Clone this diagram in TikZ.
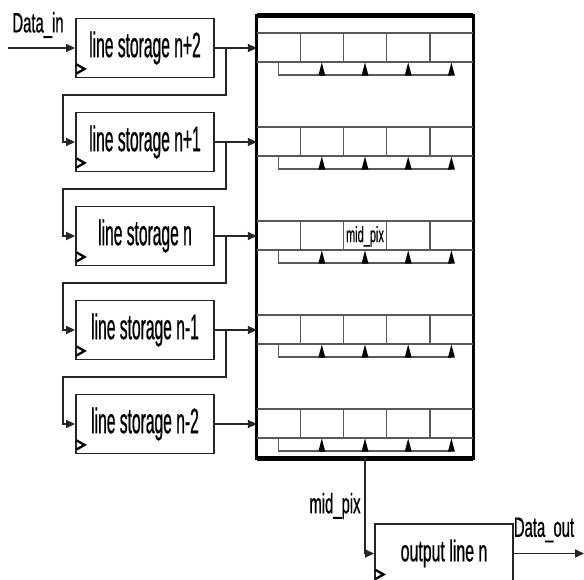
\documentclass[tikz,border=0pt]{standalone}
\usepackage{fontspec}
\newfontfamily\narrow[FakeStretch=0.44,FakeBold=0.6]{Liberation Sans}
\newfontfamily\narrowl[FakeStretch=0.53,FakeBold=0.6]{Liberation Sans}
\newfontfamily\narrowb[FakeStretch=0.5,FakeBold=0.4]{Liberation Sans}
\usetikzlibrary{arrows.meta,calc}
\begin{document}
\begin{tikzpicture}[x=1pt,y=-1pt,
  lsbox/.style={draw=black!85, line width=1.9pt, minimum width=138pt, minimum height=59pt, inner sep=0pt, font=\narrow\fontsize{35.5}{36}\selectfont},
  wire/.style={draw=black!85,line width=1.7pt},
  arr/.style={wire,-{Triangle[length=9pt,width=8pt]}},
  lbl/.style={font=\narrowl\fontsize{28}{30}\selectfont, inner sep=0pt},
  cellline/.style={draw=black!65,line width=1.4pt},
  clk/.style={draw=black,line width=2.3pt},
]
\useasboundingbox (0,0) rectangle (584,580);

% line storage boxes
\foreach \i/\t in {1/n+2,2/n+1,3/n,4/n-1,5/n-2}{
  \node[lsbox] (ls\i) at (145,{48+94*(\i-1)}) {line storage \t};
  \draw[clk] ($(ls\i.south west)+(1.5,-14)$) -- ++(8,4.5) -- ++(-8,4.5);
}

% register block
\node[minimum width=216pt, minimum height=442pt, inner sep=0pt] (reg) at (365,237) {};
\draw[line width=2.8pt] (reg.north west) rectangle (reg.south east);
\draw[line width=5pt] (reg.north west) -- (reg.north east);
\draw[line width=5pt] (reg.south west) -- (reg.south east);

\foreach \k in {0,...,4}{
  \pgfmathsetmacro\ya{33+94*\k}
  \pgfmathsetmacro\yb{62+94*\k}
  \pgfmathsetmacro\yc{75+94*\k}
  \draw[cellline] (257,\ya) -- (473,\ya);
  \draw[cellline] (257,\yb) -- (473,\yb);
  \foreach \x in {300.2,343.4,386.6,429.8}{
    \draw[cellline] (\x,\ya) -- (\x,\yb);
  }
  \draw[cellline] (278.6,\yb) -- (278.6,\yc) -- (451.4,\yc);
  \foreach \x in {321.8,365,408.2,451.4}{
    \fill[black] (\x-3.5,\yc+0.6) -- (\x,\yb+0.5) -- (\x+3.5,\yc+0.6) -- cycle;
  }
}
\node[font=\narrowb\fontsize{22}{24}\selectfont, inner sep=0pt] (midcell) at (365,236.5) {mid\_pix};

% row input arrows
\foreach \i in {1,...,5}{
  \draw[arr] (ls\i.east) -- (ls\i.east -| reg.west);
}

% feedback chain
\foreach \i [evaluate=\i as \j using int(\i+1)] in {1,...,4}{
  \draw[arr] ($(ls\i.east)+(11,0)$) |- ($(ls\j.west)+(-12,-47)$) |- (ls\j.west);
}

% input
\coordinate (din) at (8,48);
\draw[arr] (din) -- (ls1.west);
\node[lbl] (dinl) at (38,25) {Data\_in};

% output
\node[lsbox, font=\narrowl\fontsize{30}{32}\selectfont] (out) at (444,553.5) {output line n};
\draw[clk] ($(out.south west)+(1.5,-14)$) -- ++(8,4.5) -- ++(-8,4.5);
\draw[arr] (reg.south) |- (out.west);
\node[lbl] (midl) at (335,506) {mid\_pix};
\coordinate (dout) at (584,553.5);
\draw[arr] (out.east) -- (dout);
\node[lbl] (doutl) at (544,530) {Data\_out};
\end{tikzpicture}
\end{document}
